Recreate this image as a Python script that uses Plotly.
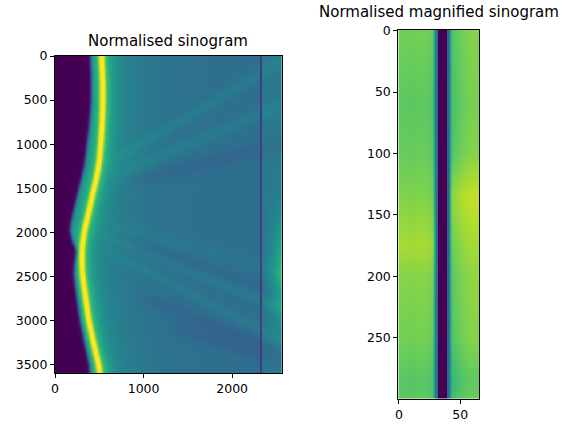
import numpy as np
import plotly.graph_objects as go

# full sinogram size (projections x detector columns)
sino_rows = 3600
sino_cols = 2560
step_x = 5
step_y = 10

# object shadow edge and bright rim, read per projection row
edge_rows = [0, 250, 500, 750, 1000, 1250, 1400, 1600, 1790, 1975, 2130,
             2200, 2320, 2470, 2650, 3000, 3250, 3500, 3600]
edge_pos = [403, 412, 412, 395, 365, 335, 300, 250, 205, 168, 205,
            250, 226, 215, 235, 285, 335, 388, 398]
band_pos = [522, 535, 538, 530, 516, 492, 462, 415, 375, 330, 308,
            302, 300, 306, 330, 378, 430, 489, 508]

# faint streaks: start (x, y), end (x, y), strength, half width
streak_x0 = [560, 600, 700, 360, 400, 500, 850, 1260, 600]
streak_y0 = [1250, 1380, 1470, 1820, 1975, 2160, 2690, 3035, 2060]
streak_x1 = [2560, 2560, 2560, 2560, 2560, 2560, 2560, 2560, 2560]
streak_y1 = [60, 560, 1000, 2460, 2870, 3240, 3360, 3490, 2700]
streak_amp = [0.05, 0.045, -0.035, 0.03, 0.045, 0.045, -0.04, -0.04, -0.025]
streak_w = [70, 80, 90, 80, 60, 60, 80, 90, 70]

dead_col = 2322
dead_level = 0.18

# magnified crop: column profile and slow row drift either side of the gap
mag_rows_n = 300
mag_cols_n = 66
mag_cols = [0, 10, 20, 27, 29, 31, 32, 39, 40, 42, 44, 50, 58, 65]
mag_level = [0.79, 0.78, 0.79, 0.77, 0.60, 0.35, 0.0, 0.0, 0.30, 0.58,
             0.73, 0.77, 0.81, 0.81]
mag_rows = [0, 60, 100, 135, 175, 200, 250, 285, 299]
mag_left_drift = [0.0, -0.04, -0.02, 0.02, 0.08, 0.03, 0.0, -0.05, -0.04]
mag_right_drift = [0.0, -0.02, 0.0, 0.10, 0.05, 0.02, 0.0, -0.06, -0.04]


def smooth_rows(v, sigma=6):
    k = np.exp(-0.5 * (np.arange(-3 * sigma, 3 * sigma + 1) / sigma) ** 2)
    k /= k.sum()
    pad = np.pad(v, 3 * sigma, mode="edge")
    return np.convolve(pad, k, mode="valid")


# ---- build the sinogram picture
xs = np.arange(0, sino_cols, step_x) + step_x / 2 - 0.5
ys = np.arange(0, sino_rows, step_y) + step_y / 2 - 0.5
X, Y = np.meshgrid(xs, ys)
edge = smooth_rows(np.interp(ys, edge_rows, edge_pos), 4)[:, None]
band = smooth_rows(np.interp(ys, edge_rows, band_pos), 8)[:, None]
d = X - band

base = np.where(d > 0, 0.36 + 0.2 * np.exp(-np.clip(d, 0, None) / 320), 0.5)
z = base + 0.4 * np.exp(-(d / 36) ** 2) + 0.15 * np.exp(-(d / 120) ** 2)

for x0, y0, x1, y1, a, w in zip(streak_x0, streak_y0, streak_x1, streak_y1,
                                streak_amp, streak_w):
    vx, vy = x1 - x0, y1 - y0
    L = np.hypot(vx, vy)
    t = ((X - x0) * vx + (Y - y0) * vy) / L ** 2
    p = ((X - x0) * vy - (Y - y0) * vx) / L
    ramp = np.clip(t / 0.15, 0, 1) * (t <= 1.05)
    z += a * np.exp(-(p / w) ** 2) * ramp

right = X > dead_col + 6
z += right * (0.04 + 0.24 * (np.clip(X - 2330, 0, None) / 230) ** 1.5
              * np.exp(-((Y - 2450) / 650) ** 2))

shadow = 1 / (1 + np.exp(-(X - edge) / 10))
z = np.clip(z * shadow, 0, 1)
z[:, np.abs(xs - dead_col) < 6] = dead_level
z = np.round(z, 3)

# ---- build the magnified crop
col_prof = np.interp(np.arange(mag_cols_n), mag_cols, mag_level)
rr = np.arange(mag_rows_n)
left_d = np.interp(rr, mag_rows, mag_left_drift)[:, None]
right_d = np.interp(rr, mag_rows, mag_right_drift)[:, None]
cc = np.arange(mag_cols_n)[None, :]
zm = col_prof[None, :] + np.where(cc < 31, left_d, 0) + np.where(cc > 41, right_d, 0)
zm = np.round(np.clip(zm, 0, 1), 3)

fig = go.Figure()
fig.add_trace(go.Heatmap(
    z=z, x0=xs[0], dx=step_x, y0=ys[0], dy=step_y,
    colorscale="Viridis", zmin=0, zmax=1, showscale=False,
    xaxis="x", yaxis="y"))
fig.add_trace(go.Heatmap(
    z=zm, x0=0, dx=1, y0=0, dy=1,
    colorscale="Viridis", zmin=0, zmax=1, showscale=False,
    xaxis="x2", yaxis="y2"))

W, H = 581, 433
font = dict(family="DejaVu Sans", size=12.5, color="black")
ax = dict(showgrid=False, zeroline=False, showline=True, mirror=True,
          linecolor="black", linewidth=1, ticks="outside", ticklen=4,
          tickwidth=1, tickcolor="black", tickfont=font, automargin=False)

fig.update_layout(
    width=W, height=H,
    margin=dict(l=0, r=0, t=0, b=0),
    paper_bgcolor="white", plot_bgcolor="white",
    font=font,
    xaxis=dict(ax, domain=[55 / W, 281.7 / W], range=[-0.5, 2559.5],
               tickvals=[0, 1000, 2000], anchor="y"),
    yaxis=dict(ax, domain=[1 - 373.3 / H, 1 - 56 / H], range=[3599.5, -0.5],
               tickvals=[0, 500, 1000, 1500, 2000, 2500, 3000, 3500], anchor="x"),
    xaxis2=dict(ax, domain=[398.3 / W, 479.3 / W], range=[-0.5, 65.5],
                tickvals=[0, 50], anchor="y2"),
    yaxis2=dict(ax, domain=[1 - 398.5 / H, 1 - 30 / H], range=[299.5, -0.5],
                tickvals=[0, 50, 100, 150, 200, 250], anchor="x2"),
    annotations=[
        dict(text="Normalised sinogram", x=168.4 / W, y=1 - 51.5 / H,
             xref="paper", yref="paper", xanchor="center", yanchor="bottom",
             showarrow=False, font=dict(family="DejaVu Sans", size=15, color="black")),
        dict(text="Normalised magnified sinogram", x=438.8 / W, y=1 - 23 / H,
             xref="paper", yref="paper", xanchor="center", yanchor="bottom",
             showarrow=False, font=dict(family="DejaVu Sans", size=15, color="black")),
    ],
)

# the page body has a default 8px margin; drop it so the figure fills the window
fig.write_html("out.html", config={"displayModeBar": False},
               post_script="document.body.style.margin='0px';")
